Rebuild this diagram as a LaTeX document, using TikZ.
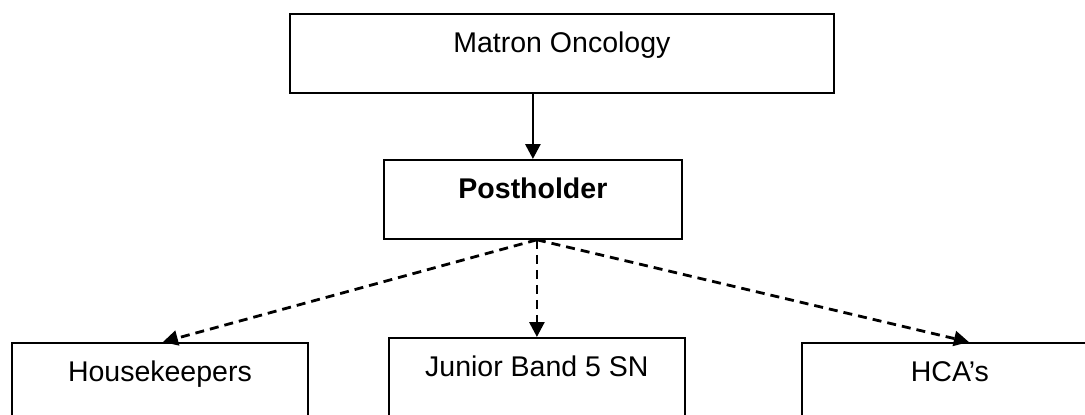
\documentclass[tikz,border=0pt]{standalone}
\usepackage{fontspec}
\setmainfont{Liberation Sans}
\usetikzlibrary{arrows.meta}

\begin{document}
\begin{tikzpicture}[x=0.5pt, y=-0.5pt, >={Triangle[length=7.5pt, width=7.5pt]},
	post/.style={draw, line width=0.9pt, inner sep=0pt, anchor=north west,
		text height=19.5pt, text depth=20pt, minimum width=148pt,
		font=\fontsize{14.25}{17}\selectfont},
	link/.style={->, line width=1.4pt},
	dotlink/.style={link, dash pattern=on 4.5pt off 3pt}]
	% page, the lower boxes run off it
	\clip (0, 0) rectangle (1085, 414);

	\node[post, minimum width=272pt] (matron) at (289, 13) {Matron Oncology};
	\node[post, minimum width=149pt] (holder) at (383, 159) {\bfseries Postholder};

	% lower row
	\node[post] (house)  at (11, 342)  {Housekeepers};
	\node[post] (junior) at (388, 337) {Junior Band 5 SN};
	\node[post] (hca)    at (801, 342) {HCA’s};

	\draw[link] (holder.north |- matron.south) -- (holder.north);

	\coordinate (fork) at ([xshift=2pt]holder.south);
	\draw[dotlink] (fork) -- ([xshift=1.5pt]house.north);
	\draw[dotlink] (fork) -- (fork |- junior.north);
	\draw[dotlink] (fork) -- ([xshift=9.5pt]hca.north);
\end{tikzpicture}
\end{document}
